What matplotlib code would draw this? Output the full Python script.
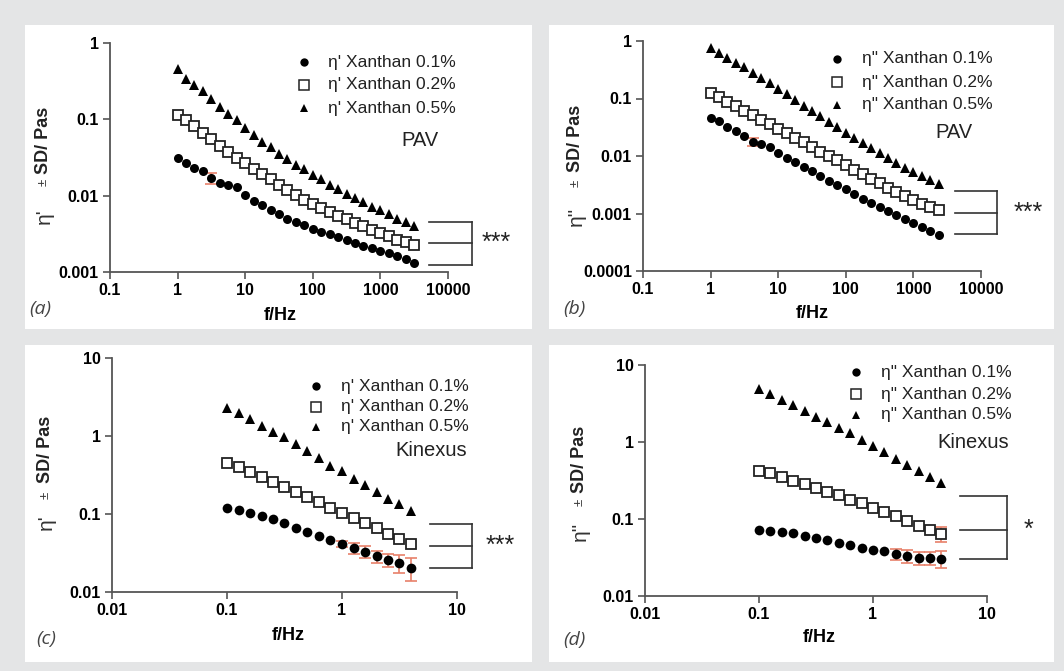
import matplotlib.pyplot as plt
from matplotlib.lines import Line2D
from matplotlib.patches import Rectangle
import numpy as np

plt.rcParams['font.family'] = ['Liberation Sans', 'DejaVu Sans']

# ---- data ----
freq_pav = [1, 1.334, 1.778, 2.371, 3.162, 4.217, 5.623, 7.499, 10, 13.34, 17.78, 23.71,
            31.62, 42.17, 56.23, 74.99, 100, 133.4, 177.8, 237.1, 316.2, 421.7, 562.3,
            749.9, 1000, 1334, 1778, 2371, 3162]
freq_kin = [0.1, 0.126, 0.158, 0.2, 0.251, 0.316, 0.398, 0.501, 0.631, 0.794,
            1.0, 1.26, 1.58, 2.0, 2.51, 3.16, 3.98]

# (a) eta' PAV
a_x01 = [0.0316, 0.0271, 0.0233, 0.0210, 0.0171, 0.0147, 0.0140, 0.0130, 0.0103, 0.00863,
         0.00755, 0.00648, 0.00574, 0.00502, 0.00454, 0.00409, 0.00370, 0.00334, 0.00311,
         0.00286, 0.00264, 0.00238, 0.00222, 0.00204, 0.00190, 0.00175, 0.00161, 0.00147,
         0.00133]
a_x02 = [0.1135, 0.0973, 0.0809, 0.0660, 0.0554, 0.0452, 0.0376, 0.0316, 0.0266, 0.0221,
         0.0190, 0.0163, 0.0140, 0.0120, 0.0103, 0.00881, 0.00780, 0.00683, 0.00604,
         0.00540, 0.00488, 0.00440, 0.00397, 0.00358, 0.00323, 0.00292, 0.00264, 0.00245,
         0.00229]
a_x05 = [0.451, 0.342, 0.284, 0.232, 0.185, 0.146, 0.119, 0.0973, 0.0769, 0.0627, 0.0511,
         0.0430, 0.0350, 0.0301, 0.0252, 0.0221, 0.0186, 0.0163, 0.0140, 0.0122, 0.0106,
         0.00927, 0.00820, 0.00718, 0.00648, 0.00574, 0.00502, 0.00454, 0.00401]
a_sd01 = {4: 0.0028}

# (b) eta'' PAV
b_x01 = [0.0460, 0.0402, 0.0318, 0.0267, 0.0220, 0.0177, 0.0161, 0.0146, 0.0115, 0.00934,
         0.00782, 0.00647, 0.00542, 0.00442, 0.00370, 0.00314, 0.00263, 0.00217, 0.00182,
         0.00153, 0.00129, 0.00110, 0.000946, 0.000804, 0.000683, 0.000588, 0.000499,
         0.000423]
b_x02 = [0.1244, 0.1056, 0.0885, 0.0741, 0.0612, 0.0513, 0.0430, 0.0355, 0.0297, 0.0249,
         0.0206, 0.0172, 0.0144, 0.0119, 0.0100, 0.00838, 0.00692, 0.00580, 0.00486,
         0.00401, 0.00336, 0.00282, 0.00239, 0.00200, 0.00170, 0.00148, 0.00129, 0.00116]
b_x05 = [0.751, 0.621, 0.506, 0.412, 0.355, 0.282, 0.230, 0.187, 0.148, 0.121, 0.0946,
         0.0751, 0.0604, 0.0492, 0.0391, 0.0318, 0.0253, 0.0203, 0.0168, 0.0137, 0.0112,
         0.00909, 0.00762, 0.00621, 0.00520, 0.00442, 0.00385, 0.00323]
b_sd01 = {5: 0.0025}

# (c) eta' Kinexus
c_x01 = [0.121, 0.113, 0.104, 0.0946, 0.0855, 0.0758, 0.0665, 0.0590, 0.0524, 0.0469,
         0.0416, 0.0368, 0.0330, 0.0286, 0.0257, 0.0234, 0.0206]
c_x02 = [0.447, 0.396, 0.348, 0.299, 0.258, 0.224, 0.193, 0.164, 0.141, 0.121, 0.104,
         0.0881, 0.0758, 0.0653, 0.0561, 0.0483, 0.0407]
c_x05 = [2.29, 1.97, 1.65, 1.36, 1.11, 0.958, 0.784, 0.635, 0.520, 0.417, 0.352, 0.285,
         0.236, 0.193, 0.158, 0.136, 0.110]
c_sd01 = {10: 0.004, 11: 0.006, 12: 0.006, 13: 0.005, 14: 0.005, 15: 0.006, 16: 0.0068}

# (d) eta'' Kinexus
d_x01 = [0.0720, 0.0698, 0.0671, 0.0650, 0.0606, 0.0571, 0.0531, 0.0495, 0.0456, 0.0425,
         0.0400, 0.0380, 0.0347, 0.0330, 0.0311, 0.0311, 0.0305]
d_x02 = [0.424, 0.391, 0.346, 0.313, 0.282, 0.255, 0.226, 0.202, 0.179, 0.159, 0.139,
         0.123, 0.108, 0.0946, 0.0813, 0.0720, 0.0638]
d_x05 = [4.82, 4.14, 3.56, 2.99, 2.49, 2.14, 1.80, 1.53, 1.29, 1.05, 0.889, 0.740, 0.604,
         0.509, 0.424, 0.353, 0.297]
d_sd01 = {12: 0.0055, 13: 0.006, 14: 0.006, 15: 0.006, 16: 0.0075}
d_sd02 = {16: 0.014}

# significance brackets: levels (top, mid, bottom)
a_bracket = [0.0045, 0.0024, 0.00123]
b_bracket = [0.00246, 0.00102, 0.00044]
c_bracket = [0.0745, 0.0389, 0.0203]
d_bracket = [0.196, 0.072, 0.030]

pav_xticks = [0.1, 1, 10, 100, 1000, 10000]
pav_xlabels = ['0.1', '1', '10', '100', '1000', '10000']
kin_xticks = [0.01, 0.1, 1, 10]
kin_xlabels = ['0.01', '0.1', '1', '10']
a_yticks = [0.001, 0.01, 0.1, 1]
a_ylabels = ['0.001', '0.01', '0.1', '1']
b_yticks = [0.0001, 0.001, 0.01, 0.1, 1]
b_ylabels = ['0.0001', '0.001', '0.01', '0.1', '1']
cd_yticks = [0.01, 0.1, 1, 10]
cd_ylabels = ['0.01', '0.1', '1', '10']

W, H = 1064, 671
fig = plt.figure(figsize=(W / 100, H / 100), dpi=100, facecolor='#e4e5e6')

AX_COL = '#555555'
ERR_COL = '#e8806a'


def fr(x, y):
    return x / W, 1 - y / H


def add_box(x0, y0, x1, y1):
    fig.patches.append(Rectangle(fr(x0, y1), (x1 - x0) / W, (y1 - y0) / H,
                                 transform=fig.transFigure, facecolor='white',
                                 edgecolor='none', zorder=-5))


def make_axes(l, t, r, b):
    ax = fig.add_axes([l / W, 1 - b / H, (r - l) / W, (b - t) / H])
    ax.set_facecolor('none')
    ax.set_zorder(2)
    return ax


def draw_panel(ax, x, s01, s02, s05, sd01, sd02, xt, xl, yt, yl, ms):
    x = np.array(x)
    for sd, ys in ((sd01, s01), (sd02, s02)):
        if sd:
            idx = sorted(sd)
            ax.errorbar(x[idx], np.array(ys)[idx], yerr=[sd[i] for i in idx], fmt='none',
                        ecolor=ERR_COL, elinewidth=1.2, capsize=4, capthick=1.2, zorder=2)
    ax.plot(x, s05, '^', color='black', ms=ms[2], mew=0, zorder=3)
    ax.plot(x, s02, 's', mfc='white', mec='#222222', ms=ms[1], mew=1.3, zorder=3)
    ax.plot(x, s01, 'o', color='black', ms=ms[0], mew=0, zorder=3)
    ax.set_xscale('log')
    ax.set_yscale('log')
    ax.set_xlim(xt[0], xt[-1])
    ax.set_ylim(yt[0], yt[-1])
    ax.set_xticks(xt)
    ax.set_xticklabels(xl)
    ax.set_yticks(yt)
    ax.set_yticklabels(yl)
    ax.minorticks_off()
    for sp in ('top', 'right'):
        ax.spines[sp].set_visible(False)
    for sp in ('left', 'bottom'):
        ax.spines[sp].set_color(AX_COL)
        ax.spines[sp].set_linewidth(1.3)
    ax.tick_params(length=5, width=1.2, color=AX_COL, labelsize=11.5, pad=3)
    for lab in ax.get_xticklabels() + ax.get_yticklabels():
        lab.set_fontweight('bold')


def draw_bracket(ax, levels, x0, x1, xs, stars):
    for lv in levels:
        ax.plot([x0, x1], [lv, lv], color='#333333', lw=1.2, clip_on=False)
    ax.plot([x1, x1], [levels[0], levels[-1]], color='#333333', lw=1.2, clip_on=False)
    ax.text(xs, levels[1], stars, fontsize=18, ha='center', va='center', color='#222222')


def draw_legend(mx, tx, rows, prime, tag_xy, tag):
    labels = [prime + ' Xanthan 0.1%', prime + ' Xanthan 0.2%', prime + ' Xanthan 0.5%']
    styles = [dict(marker='o', color='black', mew=0, ms=6),
              dict(marker='s', mfc='white', mec='#222222', mew=1.1, ms=6.5),
              dict(marker='^', color='black', mew=0, ms=6)]
    for y, lab, st in zip(rows, labels, styles):
        xf, yf = fr(mx, y)
        fig.add_artist(Line2D([xf], [yf], linestyle='none', transform=fig.transFigure, **st))
        fig.text(*fr(tx, y), lab, fontsize=12.5, ha='left', va='center', color='#222222')
    fig.text(*fr(*tag_xy), tag, fontsize=14.5, ha='center', va='center', color='#222222')


def draw_ylabel(x, y_eta, y_pm, y_sd, prime):
    fig.text(*fr(x, y_eta), prime, rotation=90, fontsize=15, ha='center', va='center',
             color='#333333')
    fig.text(*fr(x, y_pm), '±', rotation=90, fontsize=9.5, ha='center', va='center',
             color='#333333')
    fig.text(*fr(x, y_sd), 'SD/ Pas', rotation=90, fontsize=13, fontweight='bold',
             ha='center', va='center', color='#222222')


def panel_tag(x, y, tag):
    fig.text(*fr(x, y), tag, fontsize=14, style='italic', family='Open Sans',
             ha='center', va='center', color='#444444')


# white panels
add_box(25, 25, 532, 329)
add_box(549, 25, 1054, 329)
add_box(25, 345, 532, 662)
add_box(549, 345, 1054, 662)

# (a)
ax_a = make_axes(110, 43, 448, 272)
draw_panel(ax_a, freq_pav, a_x01, a_x02, a_x05, a_sd01, None,
           pav_xticks, pav_xlabels, a_yticks, a_ylabels, (6.5, 7.2, 6.5))
draw_bracket(ax_a, a_bracket, 5300, 22600, 51000, '***')
draw_legend(304, 328, [62, 85, 108], "η'", (420, 140), 'PAV')
draw_ylabel(44, 216, 182, 140, "η'")
fig.text(*fr(280, 315), 'f/Hz', fontsize=13, fontweight='bold', ha='center', va='center')
panel_tag(40, 309, '(a)')

# (b)
ax_b = make_axes(643, 41, 981, 271)
draw_panel(ax_b, freq_pav[:28], b_x01, b_x02, b_x05, b_sd01, None,
           pav_xticks, pav_xlabels, b_yticks, b_ylabels, (6.5, 7.2, 6.5))
draw_bracket(ax_b, b_bracket, 4120, 17250, 50000, '***')
draw_legend(837, 862, [59, 82, 105], 'η"', (954, 132), 'PAV')
draw_ylabel(576, 216, 183, 138, 'η"')
fig.text(*fr(812, 314), 'f/Hz', fontsize=13, fontweight='bold', ha='center', va='center')
panel_tag(574, 309, '(b)')

# (c)
ax_c = make_axes(112, 358, 457, 592)
draw_panel(ax_c, freq_kin, c_x01, c_x02, c_x05, c_sd01, None,
           kin_xticks, kin_xlabels, cd_yticks, cd_ylabels, (7, 7.5, 7))
draw_bracket(ax_c, c_bracket, 5.8, 13.5, 23.7, '***')
draw_legend(316, 341, [386, 407, 427], "η'", (431, 451), 'Kinexus')
draw_ylabel(46, 522, 495, 449, "η'")
fig.text(*fr(288, 635), 'f/Hz', fontsize=13, fontweight='bold', ha='center', va='center')
panel_tag(46, 639, '(c)')

# (d)
ax_d = make_axes(645, 365, 987, 596)
draw_panel(ax_d, freq_kin, d_x01, d_x02, d_x05, d_sd01, d_sd02,
           kin_xticks, kin_xlabels, cd_yticks, cd_ylabels, (7, 7.5, 7))
draw_bracket(ax_d, d_bracket, 5.8, 15, 23, '*')
draw_legend(856, 881, [372, 394, 415], 'η"', (973, 442), 'Kinexus')
draw_ylabel(580, 531, 502, 459, 'η"')
fig.text(*fr(819, 638), 'f/Hz', fontsize=13, fontweight='bold', ha='center', va='center')
panel_tag(574, 640, '(d)')

fig.savefig('out.png', dpi=100, facecolor=fig.get_facecolor())
